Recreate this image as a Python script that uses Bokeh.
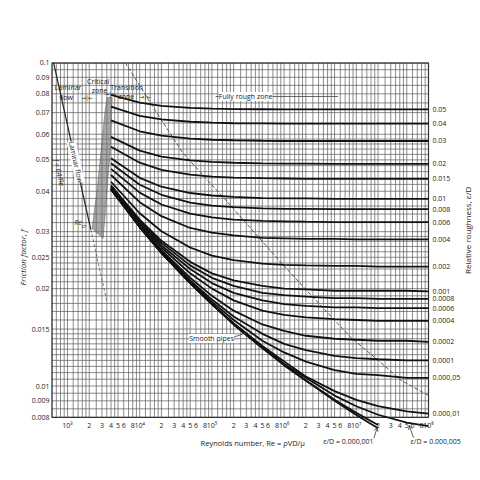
from bokeh.plotting import figure
from bokeh.models import FixedTicker, Label, Arrow, OpenHead, ColumnDataSource
from bokeh.core.properties import value
from bokeh.embed import file_html
from bokeh.resources import INLINE

FONT = "Open Sans"
SYMBOL_FONT = "DejaVu Sans"

# ---------------- data ----------------
re_points = [4e3, 1e4, 2e4, 5e4, 1e5, 2e5, 5e5, 1e6, 2e6, 5e6, 1e7, 2e7, 5e7, 1e8]

f_rr_0_05 = [0.0794, 0.0751, 0.0734, 0.0724, 0.0720, 0.0718, 0.0717, 0.0716, 0.0716, 0.0716, 0.0716, 0.0716, 0.0716, 0.0716]
f_rr_0_04 = [0.0730, 0.0684, 0.0667, 0.0656, 0.0652, 0.0649, 0.0648, 0.0647, 0.0647, 0.0647, 0.0647, 0.0647, 0.0647, 0.0647]
f_rr_0_03 = [0.0662, 0.0613, 0.0594, 0.0582, 0.0577, 0.0575, 0.0573, 0.0572, 0.0572, 0.0572, 0.0572, 0.0572, 0.0572, 0.0572]
f_rr_0_02 = [0.0589, 0.0534, 0.0512, 0.0498, 0.0493, 0.0490, 0.0488, 0.0487, 0.0487, 0.0486, 0.0486, 0.0486, 0.0486, 0.0486]
f_rr_0_015 = [0.0549, 0.0490, 0.0466, 0.0450, 0.0444, 0.0441, 0.0439, 0.0438, 0.0437, 0.0437, 0.0437, 0.0437, 0.0437, 0.0437]
f_rr_0_01 = [0.0506, 0.0440, 0.0413, 0.0395, 0.0388, 0.0384, 0.0381, 0.0380, 0.0380, 0.0379, 0.0379, 0.0379, 0.0379, 0.0379]
f_rr_0_008 = [0.0488, 0.0419, 0.0390, 0.0369, 0.0361, 0.0357, 0.0354, 0.0353, 0.0353, 0.0352, 0.0352, 0.0352, 0.0352, 0.0352]
f_rr_0_006 = [0.0469, 0.0396, 0.0364, 0.0341, 0.0332, 0.0327, 0.0324, 0.0323, 0.0322, 0.0321, 0.0321, 0.0321, 0.0321, 0.0321]
f_rr_0_004 = [0.0449, 0.0370, 0.0335, 0.0308, 0.0298, 0.0292, 0.0287, 0.0286, 0.0285, 0.0285, 0.0284, 0.0284, 0.0284, 0.0284]
f_rr_0_002 = [0.0428, 0.0342, 0.0301, 0.0268, 0.0253, 0.0245, 0.0239, 0.0237, 0.0236, 0.0235, 0.0235, 0.0234, 0.0234, 0.0234]
f_rr_0_001 = [0.0417, 0.0327, 0.0281, 0.0242, 0.0223, 0.0212, 0.0204, 0.0200, 0.0199, 0.0197, 0.0197, 0.0197, 0.0197, 0.0196]
f_rr_0_0008 = [0.0415, 0.0323, 0.0277, 0.0236, 0.0216, 0.0204, 0.0194, 0.0191, 0.0189, 0.0187, 0.0187, 0.0186, 0.0186, 0.0186]
f_rr_0_0006 = [0.0412, 0.0320, 0.0272, 0.0230, 0.0208, 0.0194, 0.0184, 0.0179, 0.0177, 0.0175, 0.0175, 0.0174, 0.0174, 0.0174]
f_rr_0_0004 = [0.0410, 0.0317, 0.0268, 0.0223, 0.0200, 0.0184, 0.0171, 0.0166, 0.0163, 0.0161, 0.0160, 0.0159, 0.0159, 0.0159]
f_rr_0_0002 = [0.0407, 0.0313, 0.0263, 0.0216, 0.0190, 0.0171, 0.0155, 0.0148, 0.0143, 0.0140, 0.0139, 0.0138, 0.0138, 0.0137]
f_rr_0_0001 = [0.0407, 0.0312, 0.0261, 0.0212, 0.0185, 0.0164, 0.0145, 0.0135, 0.0129, 0.0124, 0.0122, 0.0121, 0.0120, 0.0120]
f_rr_0_00005 = [0.0406, 0.0311, 0.0259, 0.0210, 0.0182, 0.0160, 0.0138, 0.0127, 0.0119, 0.0112, 0.0109, 0.0108, 0.0106, 0.0106]
f_rr_0_00001 = [0.0406, 0.0310, 0.0258, 0.0208, 0.0179, 0.0156, 0.0133, 0.0119, 0.0107, 0.00964, 0.00906, 0.00866, 0.00835, 0.00822]
f_rr_0_000005 = [0.0406, 0.0310, 0.0258, 0.0208, 0.0179, 0.0156, 0.0132, 0.0117, 0.0106, 0.00934, 0.00866, 0.00815, 0.00771, 0.00752]
f_rr_0_000001 = [0.0406, 0.0310, 0.0258, 0.0208, 0.0179, 0.0155, 0.0131, 0.0116, 0.0104, 0.00907, 0.00826, 0.00758, 0.00689, 0.00651]
f_smooth = [0.0406, 0.0310, 0.0258, 0.0208, 0.0179, 0.0155, 0.0131, 0.0116, 0.0104, 0.00900, 0.00814, 0.00740, 0.00657, 0.00603]

rough_curves = [f_rr_0_05, f_rr_0_04, f_rr_0_03, f_rr_0_02, f_rr_0_015, f_rr_0_01,
                f_rr_0_008, f_rr_0_006, f_rr_0_004, f_rr_0_002, f_rr_0_001, f_rr_0_0008,
                f_rr_0_0006, f_rr_0_0004, f_rr_0_0002, f_rr_0_0001, f_rr_0_00005, f_rr_0_00001]
rough_labels = ["0.05", "0.04", "0.03", "0.02", "0.015", "0.01", "0.008", "0.006", "0.004",
                "0.002", "0.001", "0.0008", "0.0006", "0.0004", "0.0002", "0.0001",
                "0.000,05", "0.000,01"]
low_curves = [f_rr_0_000005, f_rr_0_000001, f_smooth]

# laminar flow line f = 64/Re (values read at its ends)
laminar_re = [600, 2100]
laminar_f = [0.1067, 0.0305]
laminar_ext_re = [2100, 3500]
laminar_ext_f = [0.0305, 0.0183]

# critical zone (shaded band)
crit_re = [2190, 2570, 2920, 3320, 3540, 4160, 3900, 3120]
crit_f = [0.0307, 0.0402, 0.0535, 0.0711, 0.0779, 0.0779, 0.0535, 0.0286]

# dashed boundary between transition and fully rough zones
bound_re = [6300, 15460, 39130, 182000, 902600, 2359000, 8494000, 20170000, 42110000, 1e8]
bound_f = [0.1, 0.0726, 0.0527, 0.0361, 0.0241, 0.0191, 0.0141, 0.0120, 0.0104, 0.00935]

# axis ticks
x_ticks = [1e3, 2e3, 3e3, 4e3, 5e3, 6e3, 8e3,
           1e4, 2e4, 3e4, 4e4, 5e4, 6e4, 8e4,
           1e5, 2e5, 3e5, 4e5, 5e5, 6e5, 8e5,
           1e6, 2e6, 3e6, 4e6, 5e6, 6e6, 8e6,
           1e7, 2e7, 3e7, 4e7, 5e7, 6e7, 8e7, 1e8]
x_tick_labels = ["10³", "2", "3", "4", "5", "6", "8",
                 "10⁴", "2", "3", "4", "5", "6", "8",
                 "10⁵", "2", "3", "4", "5", "6", "8",
                 "10⁶", "2", "3", "4", "5", "6", "8",
                 "10⁷", "2", "3", "4", "5", "6", "8", "10⁸"]
y_ticks = [0.008, 0.009, 0.01, 0.015, 0.02, 0.025, 0.03, 0.04, 0.05, 0.06, 0.07, 0.08, 0.09, 0.1]
y_tick_labels = ["0.008", "0.009", "0.01", "0.015", "0.02", "0.025", "0.03", "0.04", "0.05",
                 "0.06", "0.07", "0.08", "0.09", "0.1"]

x_grid_steps = [1, 1.2, 1.4, 1.6, 1.8, 2, 2.5, 3, 3.5, 4, 4.5, 5, 6, 7, 8, 9]
y_grid = [0.008, 0.0085, 0.009, 0.0095, 0.010, 0.0105, 0.011, 0.0115, 0.012, 0.0125, 0.013,
          0.0135, 0.014, 0.0145, 0.015, 0.016, 0.017, 0.018, 0.019, 0.020, 0.021, 0.022,
          0.023, 0.024, 0.025, 0.026, 0.027, 0.028, 0.029, 0.030, 0.032, 0.034, 0.036,
          0.038, 0.040, 0.042, 0.044, 0.046, 0.048, 0.050, 0.052, 0.054, 0.056, 0.058,
          0.060, 0.065, 0.070, 0.075, 0.080, 0.085, 0.090, 0.095, 0.100]

# chart box (Re from 600 to 1e8, f from 0.008 to 0.1)
X_MIN, X_MAX = 600, 1e8
Y_MIN, Y_MAX = 0.008, 0.1
TAIL_FLOOR = 0.0074
# the drawing area extends past the chart box so that outside texts can be placed
VIEW_X_MAX = 4.335e8
VIEW_Y_MIN = 0.00623
X_LABEL_F = 0.00755       # row of Reynolds-number tick labels
TITLE_F = 0.00665         # row of the bottom title / notes
ROUGH_LABEL_RE = 1.136e8  # column of relative-roughness labels
ROUGH_TITLE_RE = 3.47e8   # column of the relative-roughness title

# ---------------- figure ----------------
p = figure(frame_width=423, frame_height=390, x_axis_type="log", y_axis_type="log",
           x_range=(X_MIN, VIEW_X_MAX), y_range=(VIEW_Y_MIN, Y_MAX),
           output_backend="svg", toolbar_location=None,
           min_border_left=51, min_border_right=2, min_border_top=62, min_border_bottom=8,
           background_fill_color="white", border_fill_color="white")
p.outline_line_color = None
p.xgrid.visible = False
p.ygrid.visible = False
p.xaxis.visible = False

# left axis
ya = p.yaxis[0]
ya.ticker = FixedTicker(ticks=y_ticks, minor_ticks=[])
ya.major_label_overrides = dict(zip(y_ticks, y_tick_labels))
ya.bounds = (Y_MIN, Y_MAX)
ya.axis_label = "Friction factor, f"
ya.axis_label_text_font_style = "italic"
ya.axis_label_standoff = 1
ya.major_label_standoff = 2
ya.axis_line_color = None
ya.major_tick_line_color = None
ya.minor_tick_line_color = None
ya.major_tick_out = 0
ya.major_tick_in = 0
ya.major_label_text_font = FONT
ya.major_label_text_font_size = "7px"
ya.major_label_text_color = "#222222"
ya.axis_label_text_font = FONT
ya.axis_label_text_font_size = "8px"
ya.axis_label_text_color = "#222222"

# grid of the chart box
x_grid = [m * 10 ** k for k in range(2, 8) for m in x_grid_steps if X_MIN <= m * 10 ** k <= X_MAX] + [X_MAX]
grid_xs = [[x, x] for x in x_grid] + [[X_MIN, X_MAX] for _ in y_grid]
grid_ys = [[Y_MIN, Y_MAX] for _ in x_grid] + [[y, y] for y in y_grid]
p.multi_line(grid_xs, grid_ys, line_color="#5e5e5e", line_width=0.8, line_alpha=0.9)

# box border
p.line([X_MIN, X_MIN, X_MAX], [Y_MIN, Y_MAX, Y_MAX], line_color="#333333", line_width=2.4)
p.line([X_MIN, X_MAX, X_MAX], [Y_MIN, Y_MIN, Y_MAX], line_color="#333333", line_width=1.2)

# critical zone shading
p.patch(crit_re, crit_f, fill_color="#6f6f6f", fill_alpha=0.6, line_color="#555555", line_width=0.5)

# laminar line
p.line(laminar_re, laminar_f, line_color="#222222", line_width=1.2)
p.line(laminar_ext_re, laminar_ext_f, line_color="#555555", line_width=0.8, line_dash="3 2")

# transition / fully rough boundary
p.line(bound_re, bound_f, line_color="#555555", line_width=1.0, line_dash="4 2")

# friction curves
for fv in rough_curves:
    p.line(re_points, fv, line_color="#111111", line_width=1.8)
# lowest curves continue a little below the box
for fv in low_curves:
    n = sum(1 for v in fv if v >= TAIL_FLOOR)
    p.line(re_points[:n], fv[:n], line_color="#111111", line_width=1.8)

# Reynolds-number tick labels and title
p.text(x=x_ticks, y=[X_LABEL_F] * len(x_ticks), text=x_tick_labels,
       text_font=value(FONT), text_font_size="7px", text_align="center",
       text_baseline="middle", text_color="#222222")
p.text(x=[368000], y=[TITLE_F], text=["Reynolds number, Re = ρVD/μ"],
       text_font=value(FONT), text_font_size="7.5px", text_align="center",
       text_baseline="middle", text_color="#222222")

# relative roughness labels at the curve ends and title
rough_ticks = [c[-1] for c in rough_curves]
p.text(x=[ROUGH_LABEL_RE] * len(rough_ticks), y=rough_ticks, text=rough_labels,
       text_font=value(FONT), text_font_size="7px", text_align="left",
       text_baseline="middle", text_color="#222222")
p.text(x=[ROUGH_TITLE_RE], y=[0.0303], text=["Relative roughness, ε/D"], angle=1.5708,
       text_font=value(FONT), text_font_size="8px", text_align="center",
       text_baseline="middle", text_color="#222222")

# "Fully rough zone" line and label
p.line([112600, 5600000], [0.0785, 0.0785], line_color="#444444", line_width=0.8)
p.add_layout(Label(x=294200, y=0.0785, text="Fully rough zone", text_align="center",
                   text_baseline="middle", text_font=FONT, text_font_size="7px",
                   text_color="#222222", background_fill_color="white"))

# zone labels at top-left
zone_src = ColumnDataSource(dict(
    x=[1016, 953, 2656, 2786, 6615, 6510],
    y=[0.0837, 0.0780, 0.0874, 0.0820, 0.0837, 0.0785],
    t=["Laminar", "flow", "Critical", "zone", "Transition", "zone"],
))
p.text(x="x", y="y", text="t", source=zone_src, text_font=value(FONT), text_font_size="7px",
       text_align="center", text_baseline="middle", text_color="#222222")
marker_src = ColumnDataSource(dict(
    x=[1867, 3900, 11960],
    y=[0.0780, 0.0804, 0.0785],
    t=["→|←", "→|←", "→|←"],
))
p.text(x="x", y="y", text="t", source=marker_src, text_font=value(SYMBOL_FONT),
       text_font_size="6px", text_align="center", text_baseline="middle", text_color="#333333")

# laminar flow labels
p.add_layout(Label(x=1300, y=0.0492, text="Laminar flow", angle=-1.35, text_align="center",
                   text_baseline="middle", text_font=FONT, text_font_size="7px",
                   text_color="#222222", background_fill_color="white"))
p.add_layout(Label(x=762, y=0.0457, text="f = 64/Re", angle=-1.35, text_align="center",
                   text_baseline="middle", text_font=FONT, text_font_size="7px",
                   text_font_style="italic", text_color="#222222"))

# Re critical
p.text(x=[1400], y=[0.0320], text=["Re"], text_font=value(FONT), text_font_size="7px",
       text_font_style="italic", text_align="center", text_baseline="middle", text_color="#222222")
p.text(x=[1696], y=[0.0312], text=["cr"], text_font=value(FONT), text_font_size="5px",
       text_font_style="italic", text_align="center", text_baseline="middle", text_color="#222222")

# smooth pipes label
p.line([194100, 313700], [0.01413, 0.01464], line_color="#444444", line_width=0.8)
p.add_layout(Label(x=99040, y=0.01403, text="Smooth pipes", text_align="center",
                   text_baseline="middle", text_font=FONT, text_font_size="7px",
                   text_color="#222222", background_fill_color="white"))

# bottom roughness notes
p.text(x=[1.73e7], y=[0.00674], text=["ε/D = 0.000,001"], text_font=value(FONT),
       text_font_size="7px", text_align="right", text_baseline="middle", text_color="#222222")
p.text(x=[5.63e7], y=[0.00674], text=["ε/D = 0.000,005"], text_font=value(FONT),
       text_font_size="7px", text_align="left", text_baseline="middle", text_color="#222222")
p.add_layout(Arrow(end=OpenHead(size=4, line_width=0.8, line_color="#333333"),
                   x_start=1.75e7, y_start=0.00689, x_end=1.95e7, y_end=0.00745,
                   line_color="#333333", line_width=0.8))
p.add_layout(Arrow(end=OpenHead(size=4, line_width=0.8, line_color="#333333"),
                   x_start=6.2e7, y_start=0.00692, x_end=5.4e7, y_end=0.00755,
                   line_color="#333333", line_width=0.8))

open("out.html", "w").write(file_html(p, INLINE))
